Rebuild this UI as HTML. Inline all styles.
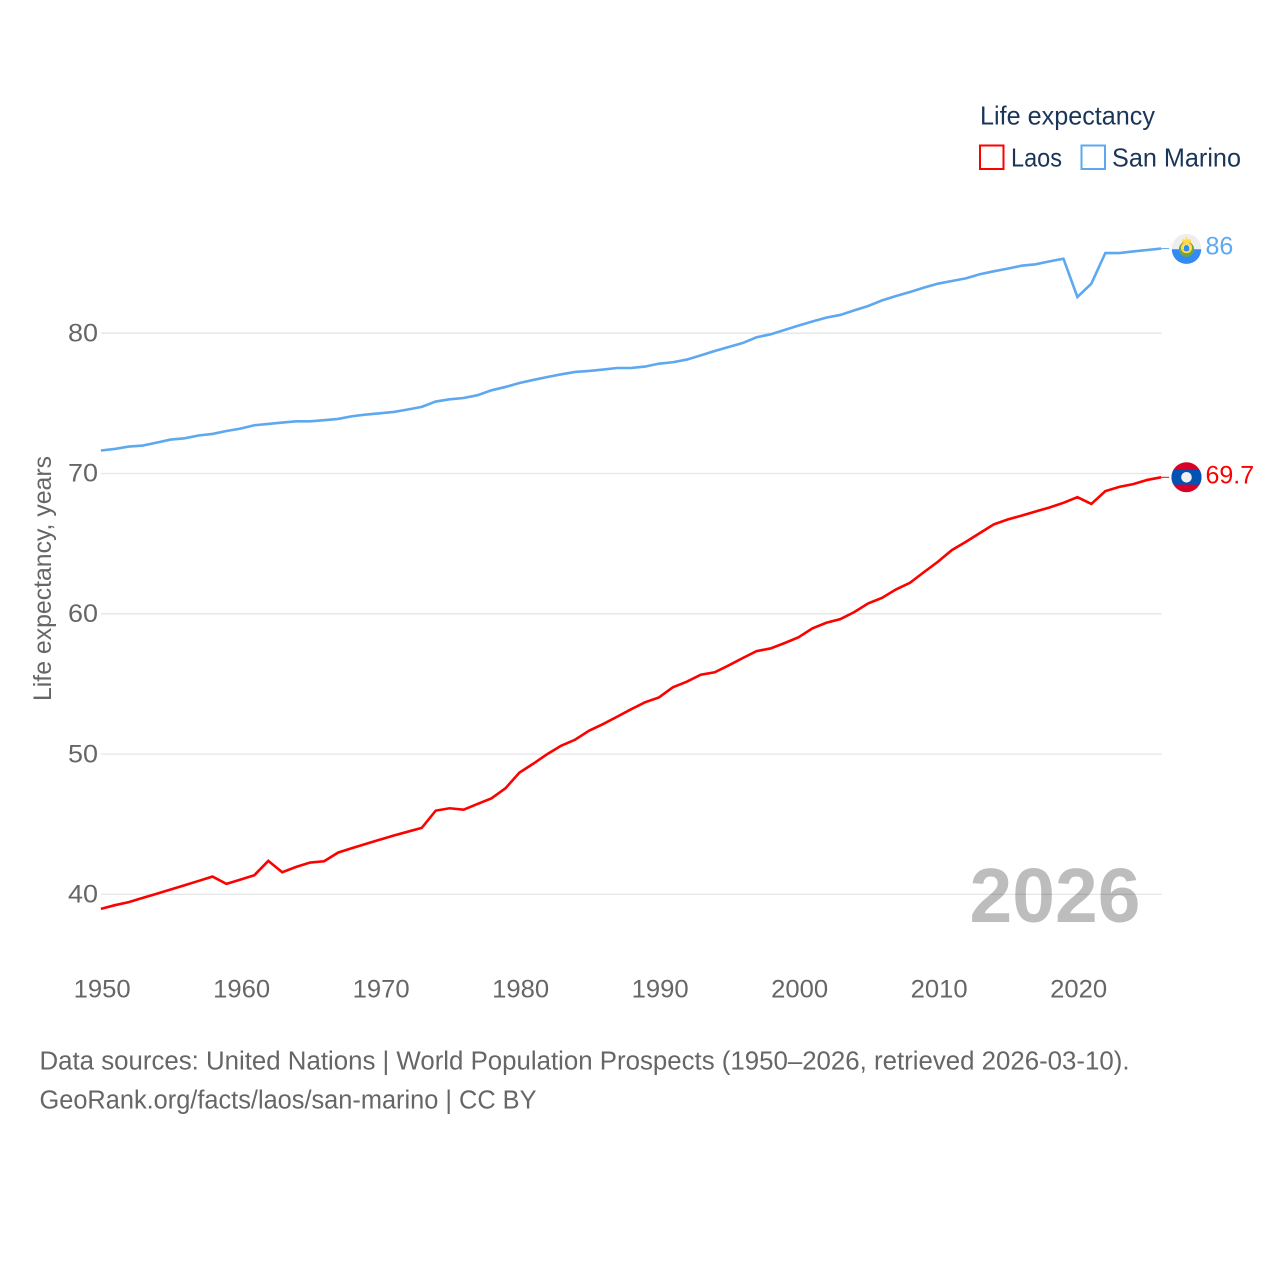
<!DOCTYPE html>
<html lang="en">
<head>
<meta charset="utf-8">
<title>Life expectancy: Laos and San Marino</title>
<style>
html,body{margin:0;padding:0;background:#fff;}
svg{display:block;font-family:"Liberation Sans",sans-serif;}
.tick{font-size:25px;fill:#666;}
.foot{font-size:25.5px;fill:#666;}
.leg{font-size:26px;fill:#1a3557;}
</style>
</head>
<body>
<svg id="chart" width="1280" height="1280" viewBox="0 0 1280 1280" xmlns="http://www.w3.org/2000/svg">
  <rect x="0" y="0" width="1280" height="1280" fill="#ffffff"/>
  <g id="grid"></g>
  <g id="yTicks"></g>
  <g id="xTicks"></g>
  <text class="tick" transform="translate(51 701) rotate(-90)" textLength="245" lengthAdjust="spacingAndGlyphs">Life expectancy, years</text>
  <text x="969.5" y="922" font-size="77" font-weight="700" fill="#000" fill-opacity="0.26" textLength="171" lengthAdjust="spacingAndGlyphs">2026</text>

  <g id="series"></g>

  <g id="flagSanMarino">
    <circle r="14.7" fill="#eeeeee"/>
    <path d="M-14.7 0.6 A14.7 14.7 0 0 0 14.7 0.6 Z" fill="#338af3"/>
    <circle cy="0.6" r="6.2" fill="none" stroke="#6da544" stroke-width="2.8"/>
    <path d="M-5 -6 L-3.5 -10 L-1.4 -8.4 L0 -12.5 L1.4 -8.4 L3.5 -10 L5 -6 Z" fill="#ffda44"/>
    <circle cy="-0.8" r="4.6" fill="none" stroke="#ffda44" stroke-width="2"/>
    <circle cy="-0.8" r="2.8" fill="#338af3"/>
  </g>
  <g id="flagLaos">
    <circle r="15" fill="#d80027"/>
    <path d="M-13.1 -7.3 H13.1 A15 15 0 0 1 13.1 7.3 H-13.1 A15 15 0 0 1 -13.1 -7.3 Z" fill="#0052b4"/>
    <circle r="5.3" fill="#f0f0f0"/>
  </g>
  <g id="endLabels"></g>

  <g>
    <text class="leg" x="980" y="124.3" textLength="175" lengthAdjust="spacingAndGlyphs">Life expectancy</text>
    <g>
      <rect x="980" y="145.5" width="23.5" height="23.5" fill="none" stroke="#ff0000" stroke-width="2"/>
      <text class="leg" x="1011" y="166.3" textLength="51" lengthAdjust="spacingAndGlyphs">Laos</text>
    </g>
    <g>
      <rect x="1081.5" y="145.5" width="23.5" height="23.5" fill="none" stroke="#5ea8ef" stroke-width="2"/>
      <text class="leg" x="1112" y="166.3" textLength="129" lengthAdjust="spacingAndGlyphs">San Marino</text>
    </g>
  </g>

  <text class="foot" x="39.5" y="1069.3" textLength="1090" lengthAdjust="spacingAndGlyphs">Data sources: United Nations | World Population Prospects (1950–2026, retrieved 2026-03-10).</text>
  <text class="foot" x="39.5" y="1108.3" textLength="497" lengthAdjust="spacingAndGlyphs">GeoRank.org/facts/laos/san-marino | CC BY</text>
</svg>
<script>
const years = [1950,1951,1952,1953,1954,1955,1956,1957,1958,1959,1960,1961,1962,1963,1964,1965,1966,1967,1968,1969,1970,1971,1972,1973,1974,1975,1976,1977,1978,1979,1980,1981,1982,1983,1984,1985,1986,1987,1988,1989,1990,1991,1992,1993,1994,1995,1996,1997,1998,1999,2000,2001,2002,2003,2004,2005,2006,2007,2008,2009,2010,2011,2012,2013,2014,2015,2016,2017,2018,2019,2020,2021,2022,2023,2024,2025,2026];
const laosValues = [38.97,39.23,39.45,39.75,40.05,40.35,40.65,40.96,41.27,40.75,41.05,41.37,42.39,41.58,41.96,42.27,42.36,42.98,43.3,43.6,43.9,44.2,44.47,44.74,45.97,46.14,46.04,46.45,46.85,47.56,48.68,49.32,50.0,50.6,51.03,51.67,52.14,52.66,53.19,53.69,54.04,54.76,55.16,55.66,55.83,56.32,56.84,57.34,57.53,57.91,58.32,58.96,59.36,59.62,60.12,60.74,61.14,61.74,62.21,62.97,63.71,64.54,65.13,65.75,66.37,66.72,67.0,67.29,67.58,67.91,68.31,67.83,68.74,69.05,69.24,69.54,69.73];
const sanMarinoValues = [71.64,71.75,71.92,71.99,72.2,72.42,72.51,72.71,72.82,73.03,73.2,73.44,73.53,73.63,73.72,73.72,73.8,73.89,74.08,74.2,74.29,74.39,74.56,74.75,75.13,75.29,75.38,75.58,75.93,76.17,76.45,76.67,76.88,77.07,77.24,77.31,77.41,77.52,77.52,77.62,77.83,77.93,78.12,78.42,78.73,79.02,79.3,79.71,79.92,80.23,80.54,80.83,81.11,81.3,81.63,81.94,82.34,82.65,82.94,83.25,83.53,83.72,83.91,84.2,84.41,84.6,84.81,84.91,85.12,85.31,82.58,83.53,85.71,85.71,85.83,85.93,86.03];
const xTickLabels = [1950,1960,1970,1980,1990,2000,2010,2020];
const yTickLabels = [40,50,60,70,80];

const SVG_NS = 'http://www.w3.org/2000/svg';
const RED = '#ff0000';
const BLUE = '#5ea8ef';

function xScale(year) {
  return 100.9 + (year - 1950) * 13.95;
}
function yScale(value) {
  return 894.4 - (value - 40) * 14.03;
}
function make(tag, parent) {
  const el = document.createElementNS(SVG_NS, tag);
  parent.appendChild(el);
  return el;
}
function pointsFor(values) {
  return values.map(function (v, i) {
    return xScale(years[i]).toFixed(2) + ',' + yScale(v).toFixed(2);
  }).join(' ');
}

const gridGroup = document.getElementById('grid');
const yTickGroup = document.getElementById('yTicks');
yTickLabels.forEach(function (t) {
  const line = make('line', gridGroup);
  
  
  line.setAttribute('x1', 101);
  line.setAttribute('x2', xScale(2026) + 0.6);
  line.setAttribute('y1', yScale(t));
  line.setAttribute('y2', yScale(t));
  line.setAttribute('stroke', '#e6e6e6');
  line.setAttribute('stroke-width', '1.3');

  const label = make('text', yTickGroup);
  
  
  label.setAttribute('class', 'tick');
  label.setAttribute('x', 68);
  label.setAttribute('y', yScale(t) + 8.2);
  label.setAttribute('textLength', '30');
  label.setAttribute('lengthAdjust', 'spacingAndGlyphs');
  label.textContent = String(t);
});

const xTickGroup = document.getElementById('xTicks');
xTickLabels.forEach(function (t) {
  const label = make('text', xTickGroup);
  
  
  label.setAttribute('class', 'tick');
  label.setAttribute('x', xScale(t) - 27.3);
  label.setAttribute('y', 997.6);
  label.setAttribute('textLength', '57');
  label.setAttribute('lengthAdjust', 'spacingAndGlyphs');
  label.textContent = String(t);
});

const seriesGroup = document.getElementById('series');

const sanMarinoLine = make('polyline', seriesGroup);


sanMarinoLine.setAttribute('points', pointsFor(sanMarinoValues));
sanMarinoLine.setAttribute('fill', 'none');
sanMarinoLine.setAttribute('stroke', BLUE);
sanMarinoLine.setAttribute('stroke-width', '2.6');
sanMarinoLine.setAttribute('stroke-linejoin', 'miter');

const laosLine = make('polyline', seriesGroup);


laosLine.setAttribute('points', pointsFor(laosValues));
laosLine.setAttribute('fill', 'none');
laosLine.setAttribute('stroke', RED);
laosLine.setAttribute('stroke-width', '2.6');
laosLine.setAttribute('stroke-linejoin', 'miter');

const endX = xScale(years[years.length - 1]);
const sanMarinoEndY = yScale(sanMarinoValues[sanMarinoValues.length - 1]);
const laosEndY = yScale(laosValues[laosValues.length - 1]);

const sanMarinoConnector = make('line', seriesGroup);


sanMarinoConnector.setAttribute('x1', endX);
sanMarinoConnector.setAttribute('x2', endX + 8);
sanMarinoConnector.setAttribute('y1', sanMarinoEndY);
sanMarinoConnector.setAttribute('y2', sanMarinoEndY);
sanMarinoConnector.setAttribute('stroke', BLUE);
sanMarinoConnector.setAttribute('stroke-width', '1');

const laosConnector = make('line', seriesGroup);


laosConnector.setAttribute('x1', endX);
laosConnector.setAttribute('x2', endX + 8);
laosConnector.setAttribute('y1', laosEndY);
laosConnector.setAttribute('y2', laosEndY);
laosConnector.setAttribute('stroke', RED);
laosConnector.setAttribute('stroke-width', '1');

document.getElementById('flagSanMarino').setAttribute('transform', 'translate(' + (endX + 25.4) + ' ' + sanMarinoEndY + ')');
document.getElementById('flagLaos').setAttribute('transform', 'translate(' + (endX + 25.4) + ' ' + laosEndY + ')');

const endLabelGroup = document.getElementById('endLabels');

const sanMarinoEndLabel = make('text', endLabelGroup);


sanMarinoEndLabel.setAttribute('x', 1205.5);
sanMarinoEndLabel.setAttribute('y', sanMarinoEndY + 5.8);
sanMarinoEndLabel.setAttribute('font-size', '25');
sanMarinoEndLabel.setAttribute('fill', BLUE);
sanMarinoEndLabel.textContent = String(Math.round(sanMarinoValues[sanMarinoValues.length - 1] * 10) / 10);

const laosEndLabel = make('text', endLabelGroup);


laosEndLabel.setAttribute('x', 1205.5);
laosEndLabel.setAttribute('y', laosEndY + 6.3);
laosEndLabel.setAttribute('font-size', '25');
laosEndLabel.setAttribute('fill', RED);
laosEndLabel.textContent = String(Math.round(laosValues[laosValues.length - 1] * 10) / 10);
</script>
</body>
</html>
